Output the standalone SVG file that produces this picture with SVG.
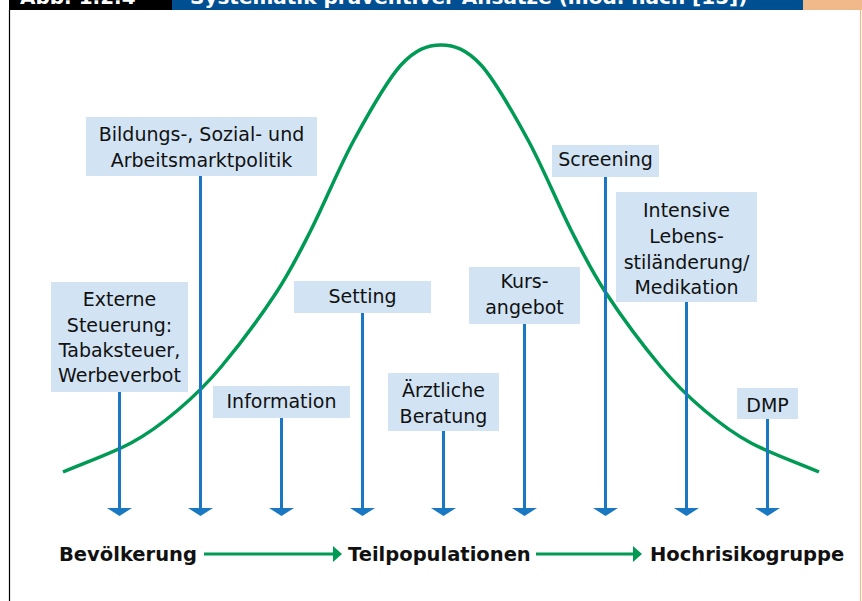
<svg xmlns="http://www.w3.org/2000/svg" width="862" height="601" viewBox="0 0 862 601">
<style>
.box{fill:#d2e4f4}
.t{font-family:"DejaVu Sans",sans-serif;font-size:19px;fill:#111;text-anchor:middle}
.b{font-family:"DejaVu Sans",sans-serif;font-size:19.5px;font-weight:bold;fill:#111}
.h{font-family:"DejaVu Sans",sans-serif;font-size:20px;font-weight:bold;fill:#fff}
.v{stroke:#1a78c2;stroke-width:3;fill:none;marker-end:url(#ab)}
.g{stroke:#009a55;stroke-width:3;fill:none;marker-end:url(#ag)}
</style>
<defs>
<marker id="ab" markerUnits="userSpaceOnUse" viewBox="0 0 8 25" refX="0" refY="12.5" markerWidth="8" markerHeight="25" orient="auto"><path d="M0,0 L8,12.5 L0,25 z" fill="#1a78c2"/></marker>
<marker id="ag" markerUnits="userSpaceOnUse" viewBox="0 0 9 16" refX="0" refY="8" markerWidth="9" markerHeight="16" orient="auto"><path d="M0,0 L9,8 L0,16 z" fill="#009a55"/></marker>
</defs>
<rect width="862" height="601" fill="#fff"/>
<g id="header">
<rect x="9" y="0" width="163" height="10" fill="#000"/>
<rect x="172" y="0" width="631" height="10" fill="#004f92"/>
<rect x="803" y="0" width="59" height="10" fill="#f0b98a"/>
<text class="h" x="20" y="4">Abb. 1.2.4</text>
<text class="h" x="190" y="4">Systematik präventiver Ansätze (mod. nach [15])</text>
</g>
<g id="frame">
<line x1="9.5" y1="10" x2="9.5" y2="601" stroke="#000" stroke-width="1.2"/>
<line x1="860.5" y1="10" x2="860.5" y2="601" stroke="#f0b98a" stroke-width="1.2"/>
</g>
<g id="curve">
<path d="M63,472 C85.7,462.3 111.8,453.3 131,443 C150.2,432.7 163,422.7 178,410 C193,397.3 204.7,386.5 221,367 C237.3,347.5 261,315.8 276,293 C291,270.2 298,255.5 311,230 C324,204.5 339,167.5 354,140 C369,112.5 386.5,80.8 401,65 C415.5,49.2 427.7,45 441,45 C454.3,45 466.5,49.2 481,65 C495.5,80.8 513,112.5 528,140 C543,167.5 558,204.5 571,230 C584,255.5 591,270.2 606,293 C621,315.8 644.7,347.5 661,367 C677.3,386.5 689,397.3 704,410 C719,422.7 731.8,432.7 751,443 C770.2,453.3 796.3,462.3 819,472" fill="none" stroke="#009a55" stroke-width="3.5"/>
</g>
<g id="n-externe">
<rect class="box" x="51" y="282" width="137" height="110"/>
<text class="t" x="119.5" y="306">Externe</text>
<text class="t" x="119.5" y="332">Steuerung:</text>
<text class="t" x="119.5" y="357">Tabaksteuer,</text>
<text class="t" x="119.5" y="382">Werbeverbot</text>
</g>
<g id="n-bildung">
<rect class="box" x="86" y="117" width="231" height="59"/>
<text class="t" x="201.5" y="141">Bildungs-, Sozial- und</text>
<text class="t" x="201.5" y="167">Arbeitsmarktpolitik</text>
</g>
<g id="n-information">
<rect class="box" x="213" y="386" width="137" height="32"/>
<text class="t" x="281.5" y="408">Information</text>
</g>
<g id="n-setting">
<rect class="box" x="294" y="281" width="137" height="32"/>
<text class="t" x="362.5" y="303">Setting</text>
</g>
<g id="n-aerztlich">
<rect class="box" x="388" y="373" width="111" height="58"/>
<text class="t" x="443.5" y="397">Ärztliche</text>
<text class="t" x="443.5" y="423">Beratung</text>
</g>
<g id="n-kurs">
<rect class="box" x="469" y="267" width="111" height="57"/>
<text class="t" x="524.5" y="288">Kurs-</text>
<text class="t" x="524.5" y="314">angebot</text>
</g>
<g id="n-screening">
<rect class="box" x="552" y="145" width="107" height="32"/>
<text class="t" x="605.5" y="166">Screening</text>
</g>
<g id="n-intensiv">
<rect class="box" x="616" y="192" width="141" height="110"/>
<text class="t" x="686.5" y="217">Intensive</text>
<text class="t" x="686.5" y="243">Lebens-</text>
<text class="t" x="686.5" y="269">stiländerung/</text>
<text class="t" x="686.5" y="294">Medikation</text>
</g>
<g id="n-dmp">
<rect class="box" x="737" y="388" width="61" height="31"/>
<text class="t" x="767.5" y="412">DMP</text>
</g>
<g id="n-bevoelkerung"><text class="b" x="59" y="561">Bevölkerung</text></g>
<g id="n-teilpop"><text class="b" x="348" y="561">Teilpopulationen</text></g>
<g id="n-hochrisiko"><text class="b" x="650" y="561">Hochrisikogruppe</text></g>
<g id="connectors">
<line class="v" x1="119.5" y1="392" x2="119.5" y2="508"/>
<line class="v" x1="200.5" y1="176" x2="200.5" y2="508"/>
<line class="v" x1="281.5" y1="418" x2="281.5" y2="508"/>
<line class="v" x1="362.5" y1="313" x2="362.5" y2="508"/>
<line class="v" x1="443.5" y1="431" x2="443.5" y2="508"/>
<line class="v" x1="524.5" y1="324" x2="524.5" y2="508"/>
<line class="v" x1="605.5" y1="177" x2="605.5" y2="508"/>
<line class="v" x1="686.5" y1="302" x2="686.5" y2="508"/>
<line class="v" x1="767.5" y1="419" x2="767.5" y2="508"/>
<line class="g" x1="204" y1="554" x2="333" y2="554"/>
<line class="g" x1="536" y1="554" x2="633" y2="554"/>
</g>
</svg>
